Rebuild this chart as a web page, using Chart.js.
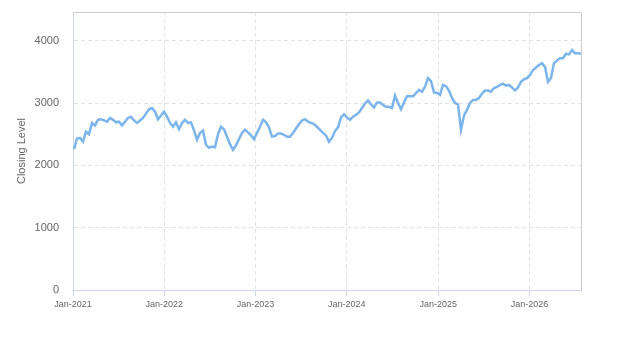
<!DOCTYPE html>
<html>
<head>
<meta charset="utf-8">
<script src="https://cdn.jsdelivr.net/npm/chart.js@4.4.1/dist/chart.umd.min.js"></script>
<style>
  html, body { margin: 0; padding: 0; background: #ffffff; }
  #wrap { width: 623px; height: 350px; }
</style>
</head>
<body>
<div id="wrap"><canvas id="c" width="623" height="350"></canvas></div>
<script>
// ---- data ----
const startDate = '2021-01-05';
const stepDays = 12;
const closingLevels = [
  2260, 2430, 2440, 2380, 2540, 2500, 2680, 2640, 2730, 2740,
  2720, 2700, 2760, 2730, 2690, 2700, 2640, 2700, 2760, 2780,
  2720, 2680, 2720, 2760, 2830, 2900, 2920, 2860, 2740, 2800,
  2860, 2780, 2680, 2620, 2690, 2580, 2680, 2730, 2680, 2690,
  2560, 2410, 2520, 2560, 2330, 2280, 2300, 2290, 2500, 2620,
  2580, 2460, 2340, 2250, 2320, 2420, 2520, 2570, 2530, 2480,
  2420, 2520, 2620, 2730, 2690, 2610, 2460, 2470, 2510, 2510,
  2490, 2460, 2460, 2520, 2590, 2660, 2720, 2740, 2700, 2680,
  2660, 2620, 2570, 2520, 2480, 2380, 2440, 2550, 2610, 2770,
  2820, 2770, 2730, 2780, 2810, 2850, 2920, 2990, 3040, 2980,
  2930, 3010, 3010, 2970, 2940, 2940, 2920, 3120, 3000, 2900,
  3010, 3110, 3110, 3110, 3160, 3210, 3180, 3260, 3400, 3350,
  3170, 3160, 3130, 3290, 3270, 3200, 3080, 3000, 2980, 2570,
  2800, 2890, 3000, 3050, 3050, 3080, 3150, 3200, 3200, 3180,
  3240, 3260, 3290, 3310, 3280, 3290, 3250, 3200, 3250, 3340,
  3380, 3400, 3450, 3530, 3570, 3610, 3640, 3580, 3340, 3400,
  3640, 3680, 3720, 3720, 3790, 3780, 3850, 3800, 3800, 3790
];
const tickYears = [2021, 2022, 2023, 2024, 2025, 2026];
const tickLabels = ['Jan-2021', 'Jan-2022', 'Jan-2023', 'Jan-2024', 'Jan-2025', 'Jan-2026'];
const yTicks = [0, 1000, 2000, 3000, 4000];
const yMax = 4460;
const seriesName = 'Closing Level';

// ---- build table for the library ----
const DAY = 86400000;
const origin = Date.UTC(2021, 0, 1);
const startOffset = (Date.parse(startDate + 'T00:00:00Z') - origin) / DAY;
const points = closingLevels.map((v, i) => ({ x: startOffset + i * stepDays, y: v }));
const tickDays = tickYears.map(y => (Date.UTC(y, 0, 1) - origin) / DAY);
const xMax = points[points.length - 1].x;

const FONT = '"Liberation Sans", Arial, sans-serif';

const frame = {
  id: 'frame',
  afterDraw(chart) {
    const { ctx, chartArea: a } = chart;
    ctx.save();
    ctx.strokeStyle = '#cccccc';
    ctx.lineWidth = 1;
    ctx.beginPath();
    ctx.moveTo(a.left, a.top + 0.5);
    ctx.lineTo(a.right + 0.5, a.top + 0.5);
    ctx.lineTo(a.right + 0.5, a.bottom);
    ctx.stroke();
    ctx.restore();
  }
};

new Chart(document.getElementById('c'), {
  type: 'line',
  data: {
    datasets: [{
      label: seriesName,
      data: points,
      borderColor: '#7cb5ec',
      backgroundColor: '#7cb5ec',
      borderWidth: 2.5,
      pointRadius: 0,
      tension: 0,
      fill: false
    }]
  },
  options: {
    responsive: false,
    animation: false,
    devicePixelRatio: 1,
    layout: { padding: { top: 12, right: 42, left: 11, bottom: 0 } },
    plugins: { legend: { display: false }, tooltip: { enabled: false } },
    scales: {
      x: {
        type: 'linear',
        min: 0,
        max: xMax,
        afterFit(s) { s.height = 60; s.paddingLeft = 0; s.paddingRight = 0; },
        afterBuildTicks(s) { s.ticks = tickDays.map(v => ({ value: v })); },
        ticks: {
          autoSkip: false,
          maxRotation: 0,
          padding: 3,
          color: '#666666',
          font: { family: FONT, size: 9 },
          callback(v) {
            const i = tickDays.indexOf(v);
            return i >= 0 ? tickLabels[i] : '';
          }
        },
        grid: {
          color: '#e3e3e3',
          tickColor: '#ccd6eb',
          tickLength: 6,
          drawOnChartArea: true
        },
        border: { display: true, color: '#ccd6eb', width: 1, dash: [4, 3] }
      },
      y: {
        type: 'linear',
        min: 0,
        max: yMax,
        afterFit(s) { s.width = 62; s.paddingTop = 0; s.paddingBottom = 0; },
        afterBuildTicks(s) { s.ticks = yTicks.map(v => ({ value: v })); },
        ticks: {
          padding: 14,
          color: '#666666',
          font: { family: FONT, size: 11 },
          callback(v) { return String(v); }
        },
        grid: {
          color: '#e3e3e3',
          drawTicks: false
        },
        border: { display: true, color: '#ccd6eb', width: 1, dash: [4, 3] },
        title: {
          display: true,
          text: seriesName,
          color: '#666666',
          font: { family: FONT, size: 11 },
          padding: { top: 4, bottom: 4 }
        }
      }
    }
  },
  plugins: [frame]
});
</script>
</body>
</html>
